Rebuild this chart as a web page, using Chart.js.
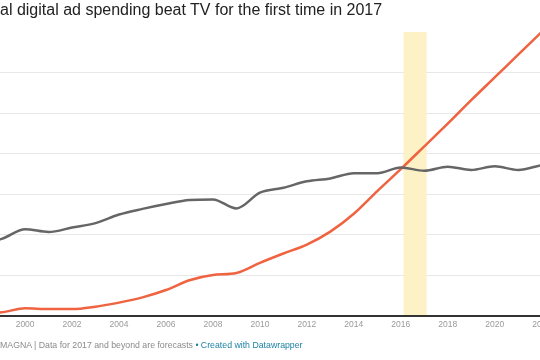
<!DOCTYPE html>
<html><head><meta charset="utf-8">
<script src="https://cdn.jsdelivr.net/npm/chart.js@4/dist/chart.umd.min.js"></script>
<style>
html,body{margin:0;padding:0;width:540px;height:360px;overflow:hidden;background:#fff;}
#wrap{position:relative;width:540px;height:360px;}
canvas{position:absolute;left:0;top:0;}
#title{position:absolute;left:0;top:-0.5px;font-family:"Liberation Sans",Arial,sans-serif;font-size:16px;line-height:20px;color:#222;white-space:nowrap;}
#foot{position:absolute;left:0;top:339px;font-family:"Liberation Sans",Arial,sans-serif;font-size:8.75px;line-height:12px;color:#8a8a8a;white-space:nowrap;}
#foot .dw{color:#1d81a2;}
</style></head><body>
<div id="wrap"><canvas id="c" width="540" height="360"></canvas>
<div id="title">al digital ad spending beat TV for the first time in 2017</div>
<div id="foot">MAGNA | Data for 2017 and beyond are forecasts <span class="dw">• Created with Datawrapper</span></div></div>
<script>
const years = [1998,1999,2000,2001,2002,2003,2004,2005,2006,2007,2008,2009,2010,2011,2012,2013,2014,2015,2016,2017,2018,2019,2020,2021,2022];
const tvSpend = [90,95,107,103.5,109,114.5,125,132,138,143,143.7,132.6,152,158,166,169.5,176,176,183,179,184,180,184.5,180,186];
const digitalSpend = [3.5,4.5,9.5,8.5,8.5,11.5,16.5,23,32,44,50.5,53,65.5,77,88,104,126,154,181,209,237,266,294,322,350];
const xTickYears = [2000,2002,2004,2006,2008,2010,2012,2014,2016,2018,2020,2022];
const yGridValues = [0,50,100,150,200,250,300,350];
const highlightRange = [2016.12, 2017.1];
const xView = [1998.93, 2021.93];

const bandPlugin = {
  id: 'band',
  beforeDatasetsDraw(chart) {
    const {ctx, chartArea, scales} = chart;
    const x1 = scales.x.getPixelForValue(highlightRange[0]);
    const x2 = scales.x.getPixelForValue(highlightRange[1]);
    ctx.save();
    ctx.fillStyle = '#fdf1c6';
    ctx.fillRect(x1, chartArea.top, x2 - x1, chartArea.bottom - chartArea.top - 1);
    ctx.restore();
  }
};

new Chart(document.getElementById('c'), {
  type: 'line',
  data: {
    datasets: [
      {label: 'TV', data: years.map((y,i)=>({x:y, y:tvSpend[i]})), borderColor: '#666666', borderWidth: 2.5, pointRadius: 0, cubicInterpolationMode: 'monotone', fill: false},
      {label: 'Digital', data: years.map((y,i)=>({x:y, y:digitalSpend[i]})), borderColor: '#ef6340', borderWidth: 2.5, pointRadius: 0, cubicInterpolationMode: 'monotone', fill: false}
    ]
  },
  options: {
    responsive: false,
    animation: false,
    devicePixelRatio: 1,
    layout: {padding: {top: 32, left: 0, right: 0, bottom: 20}},
    plugins: {legend: {display: false}, tooltip: {enabled: false}, title: {display: false}},
    scales: {
      x: {
        type: 'linear', min: xView[0], max: xView[1],
        afterBuildTicks: s => { s.ticks = xTickYears.map(v => ({value: v})); },
        afterFit: s => { s.height = 24; s.paddingLeft = 0; s.paddingRight = 0; },
        grid: {display: false, drawTicks: false},
        border: {display: true, color: '#333333', width: 2},
        ticks: {autoSkip: false, maxRotation: 0, padding: 4, color: '#9a9a9a', font: {family: '"Liberation Sans", Arial, sans-serif', size: 8.5}, callback: v => String(v)}
      },
      y: {
        min: 0, max: 350,
        afterBuildTicks: s => { s.ticks = yGridValues.map(v => ({value: v})); },
        afterFit: s => { s.width = 0; },
        ticks: {display: false},
        border: {display: false},
        grid: {drawTicks: false, lineWidth: 1, color: c => (c.tick.value === 0 || c.tick.value === 350) ? 'rgba(0,0,0,0)' : '#e8e8e8'}
      }
    }
  },
  plugins: [bandPlugin]
});
</script>
</body></html>
